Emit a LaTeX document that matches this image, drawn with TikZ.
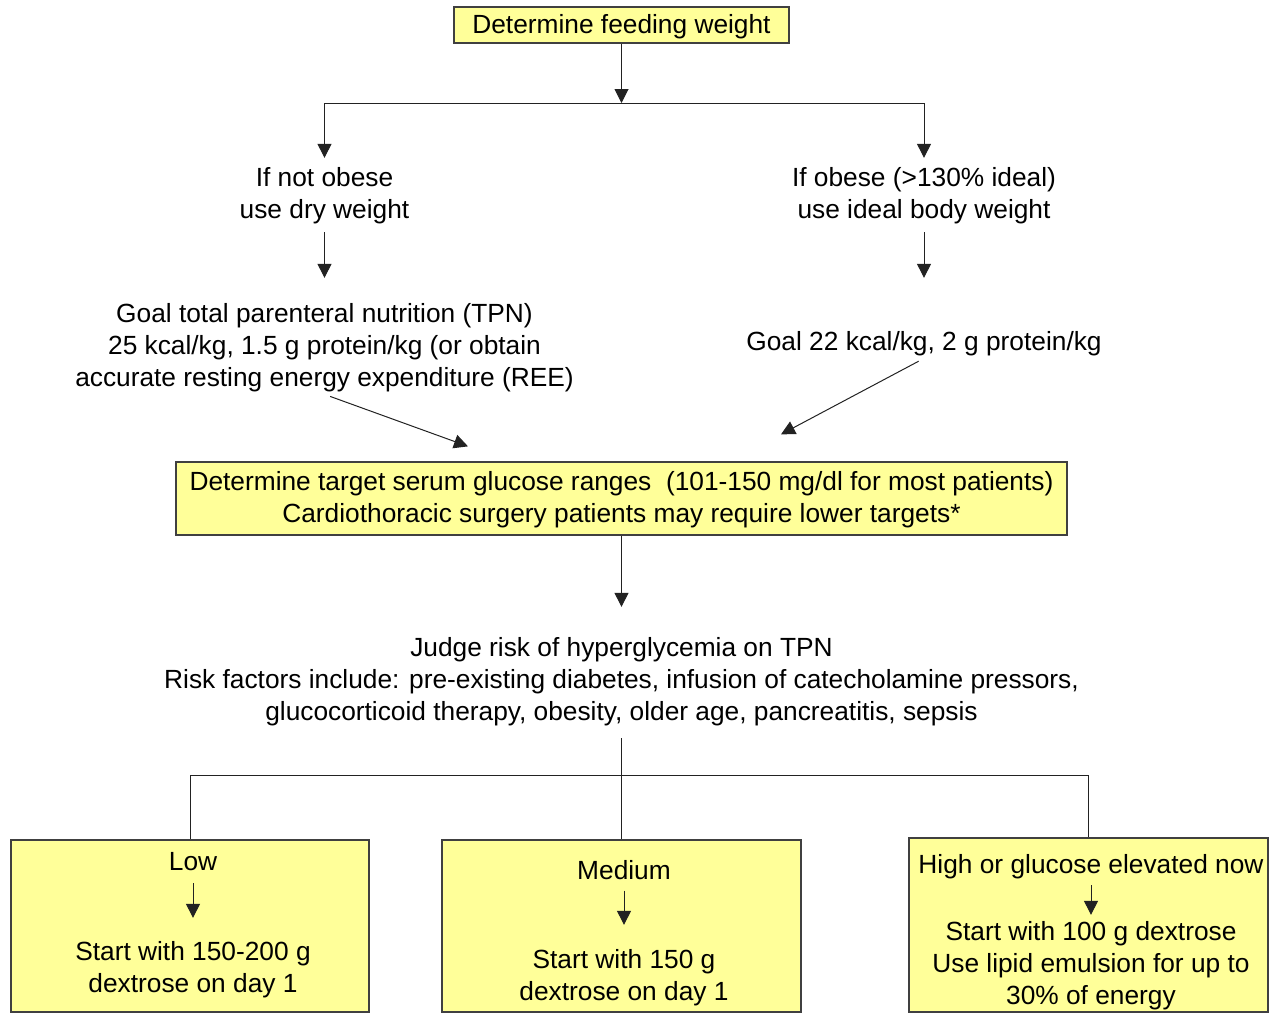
\documentclass[tikz,border=0pt]{standalone}
\usepackage{fontspec}
\setmainfont{Liberation Sans}
\usetikzlibrary{arrows.meta,positioning}
\definecolor{boxyellow}{HTML}{FFFF99}
\definecolor{edgegray}{HTML}{404040}
\definecolor{linegray}{HTML}{222222}

\begin{document}
\begin{tikzpicture}[
  x=1pt, y=-1pt,
  >={Triangle[width=14pt,length=14pt]},
  line width=1pt,
  box/.style={rectangle, draw=edgegray, fill=boxyellow, line width=1.3pt},
  note/.style={align=center, inner sep=2pt, font=\fontsize{26.3}{32}\selectfont},
  flow/.style={->, draw=linegray, line width=1pt},
  link/.style={draw=linegray, line width=1pt}
]
  \useasboundingbox (0,0) rectangle (1270,1013);

  % feeding weight
  \node[box, note, text depth=3pt, minimum width=335pt, minimum height=36pt] (feed) at (621.5,25) {Determine feeding weight};
  \coordinate (split) at (621.5,103);
  \coordinate (splitL) at (324.5,103);
  \coordinate (splitR) at (924,103);
  \node[note] (notob) at (324.5,195.6) {If not obese\\use dry weight};
  \node[note] (obese) at (924,195.6) {If obese (>130\% ideal)\\use ideal body weight};
  \node[note] (goalL) at (324.5,347.6) {Goal total parenteral nutrition (TPN)\\25 kcal/kg, 1.5 g protein/kg (or obtain\\accurate resting energy expenditure (REE)};
  \node[note] (goalR) at (924,343.6) {Goal 22 kcal/kg, 2 g protein/kg};

  % glucose target and risk
  \node[box, note, text depth=3pt, minimum width=891pt, minimum height=73pt] (target) at (621.5,498.5) {Determine target serum glucose ranges\ \ (101-150 mg/dl for most patients)\\Cardiothoracic surgery patients may require lower targets*};
  \node[note] (judge) at (621.5,681.6) {Judge risk of hyperglycemia on TPN\\Risk factors include: pre-existing diabetes, infusion of catecholamine pressors,\\glucocorticoid therapy, obesity, older age, pancreatitis, sepsis};

  % risk level boxes
  \node[box, minimum width=358pt, minimum height=172pt] (low) at (190,926) {};
  \node[box, minimum width=359pt, minimum height=172pt] (medium) at (621.5,926) {};
  \node[box, minimum width=359pt, minimum height=174pt] (high) at (1088.5,925) {};
  \node[note] (lowhd) at (193,862) {Low};
  \node[note] (lowtx) at (193,969.6) {Start with 150-200 g\\dextrose on day 1};
  \node[note] (medhd) at (624,870) {Medium};
  \node[note] (medtx) at (624,977.6) {Start with 150 g\\dextrose on day 1};
  \node[note] (highhd) at (1091,866.6) {High or glucose elevated now};
  \node[note] (hightx) at (1091,965.6) {Start with 100 g dextrose\\Use lipid emulsion for up to\\30\% of energy};

  \draw[flow] (feed.south) -- (split);
  \draw[link] (splitL) -- (splitR);
  \draw[flow, shorten >=7pt] (splitL) -- (notob);
  \draw[flow, shorten >=7pt] (splitR) -- (obese);
  \draw[flow, shorten <=6pt, shorten >=23pt] (notob) -- (goalL);
  \draw[flow, shorten <=6pt, shorten >=51pt] (obese) -- (goalR);
  \draw[flow, shorten <=6pt] (goalL.south) -- ([xshift=-153.5pt,yshift=15pt]target.north);
  \draw[flow, shorten <=6pt] (goalR.south) -- ([xshift=159.5pt,yshift=27pt]target.north);
  \draw[flow, shorten >=28pt] (target) -- (judge);
  \draw[link, shorten <=10pt] (judge) -- (medium);
  \coordinate (forkL) at (190,775);
  \coordinate (forkR) at (1088,775);
  \draw[link] (forkL) -- (forkR);
  \draw[link] (forkL) -- (forkL |- low.north);
  \draw[link] (forkR) -- (forkR |- high.north);
  \draw[flow, shorten <=9.5pt, shorten >=21pt] (lowhd) -- (lowtx);
  \draw[flow, shorten <=8.5pt, shorten >=22pt] (medhd) -- (medtx);
  \draw[flow, shorten <=4pt, shorten >=4pt] (highhd) -- (hightx);
\end{tikzpicture}
\end{document}
